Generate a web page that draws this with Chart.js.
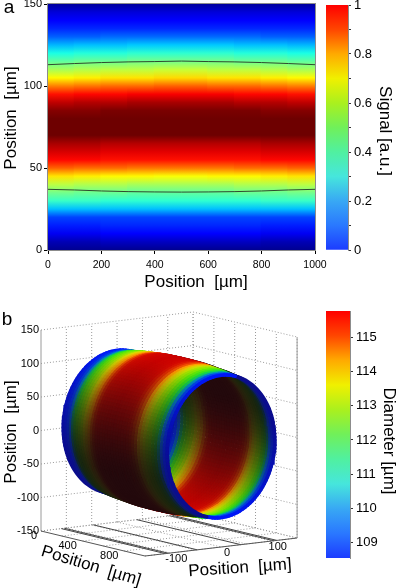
<!DOCTYPE html>
<html>
<head>
<meta charset="utf-8">
<script src="https://cdn.jsdelivr.net/npm/chart.js@4"></script>
<style>
body { margin: 0; background: #fff; }
canvas { position: absolute; }
</style>
</head>
<body>
<canvas id="mapa" width="345" height="300" style="left:0;top:0"></canvas>
<canvas id="barraSignal" width="80" height="300" style="left:320px;top:0"></canvas>
<canvas id="tubo" width="325" height="288" style="left:0;top:300px"></canvas>
<canvas id="barraDiam" width="80" height="288" style="left:320px;top:300px"></canvas>
<script>
// panel a: signal read at each position, one list per column, top row first
posY = [150,145,140,135,130,125,120,115,110,105,100,95,90,85,80,75,70,65,60,55,50,45,40,35,30,25,20,15,10,5,0];
col50 =  [.03,.08,.11,.15,.21,.30,.40,.47,.54,.63,.75,.86,.93,.98,1,1,1,.95,.91,.87,.78,.65,.56,.49,.43,.31,.18,.14,.10,.05,.02];
col150 = [.03,.08,.11,.15,.21,.31,.41,.48,.55,.64,.76,.87,.94,.98,1,1,1,.95,.91,.87,.77,.64,.55,.48,.43,.31,.18,.14,.10,.05,.02];
col250 = [.03,.08,.11,.15,.22,.31,.41,.48,.56,.65,.77,.87,.94,.99,1,1,1,.94,.90,.86,.77,.63,.55,.48,.42,.31,.18,.15,.11,.06,.02];
col350 = [.03,.08,.11,.15,.22,.32,.42,.49,.56,.65,.77,.88,.95,.99,1,1,1,.94,.90,.86,.76,.63,.54,.47,.42,.31,.18,.15,.11,.06,.02];
col450 = [.03,.08,.11,.15,.22,.32,.42,.49,.57,.66,.78,.88,.95,.99,1,1,1,.94,.90,.86,.76,.62,.54,.47,.42,.31,.18,.15,.11,.06,.02];
columnas = [col50,col150,col250,col350,col450,col450,col350,col250,col150,col50];
posColumnas = [50,150,250,350,450,550,650,750,850,950];
ticksMapaX = [0,200,400,600,800,1000];
ticksMapaY = [0,50,100,150];
contornoX = [0,100,200,300,400,500,600,700,800,900,1000];
contornoArriba = [113,113.7,114.3,114.7,114.9,115.2,114.9,114.7,114.3,113.7,113];
contornoAbajo = [37,36.6,36,35.6,35.4,35.3,35.4,35.6,36,36.6,37];

// colorbars
ticksSignal = [0,.1,.2,.3,.4,.5,.6,.7,.8,.9,1];
coloresSignal = ['#1c3cff','#2a78ff','#38a8f4','#46e6dc','#50f0a0','#70f05a','#aaf01e','#f0f000','#ffaa00','#ff4600','#ff0000'];
ticksDiam = [109,110,111,112,113,114,115];
coloresDiam = ['#1c3cff','#2a78ff','#38a8f4','#46e6dc','#50f0a0','#70f05a','#aaf01e','#f0f000','#ffaa00','#ff4600','#ff0000'];

// panel b: diameter along the tube
posTubo = [0,25,50,75,100,125,150,175,200,225,250,275,300,325,350,375,400,425,450,475,500,525,550,575,600,625,650,675,700,725,750,775,800,825,850,875,900,925,950,975,1000];
diametro = [108.7,108.8,109,109.5,110.3,111,111.6,112,112.4,112.9,113.3,113.7,114.2,114.7,115,115.2,115.3,115.4,115.5,115.5,115.6,115.6,115.5,115.5,115.4,115.3,115.1,114.9,114.6,114.2,113.6,113.1,112.7,112.3,112,111.5,110.9,110.2,109.5,109,108.7];
lineasPiso = [-110,-104,-47,39,104,110];
ticksZ = [-150,-100,-50,0,50,100,150];
coloresTubo = [[0,0,255],[0,120,225],[10,205,100],[50,230,30],[90,235,10],[150,235,0],[220,220,0],[255,160,0],[240,70,0],[215,10,0],[200,0,0]];

fuente = '"Liberation Sans", Arial, sans-serif';

function jet(v){
    stops = [[0,0,0,120],[.11,0,0,255],[.375,0,255,255],[.625,255,255,0],[.875,255,0,0],[1,110,0,0]];
    for (i = 1; i < stops.length; i++) {
        if(v <= stops[i][0]){
            a = stops[i-1]; b = stops[i];
            t = (v - a[0]) / (b[0] - a[0]);
            return 'rgb(' + (a[1]+t*(b[1]-a[1])) + ',' + (a[2]+t*(b[2]-a[2])) + ',' + (a[3]+t*(b[3]-a[3])) + ')';
        }
    }
    return 'rgb(110,0,0)';
}

function texto(ctx, str, x, y, rot, size){
    ctx.save();
    ctx.translate(x, y);
    ctx.rotate(rot * Math.PI / 180);
    ctx.font = size + 'px ' + fuente;
    ctx.fillStyle = '#000';
    ctx.textAlign = 'center';
    ctx.textBaseline = 'middle';
    ctx.fillText(str, 0, 0);
    ctx.restore();
}

function gradienteColumna(c, valores){
    area = c.chart.chartArea;
    if(!area){ return '#000'; }
    esc = c.chart.scales.y;
    g = c.chart.ctx.createLinearGradient(0, esc.getPixelForValue(150), 0, esc.getPixelForValue(0));
    for (k = 0; k < posY.length; k++) {
        g.addColorStop(1 - posY[k] / 150, jet(valores[k]));
    }
    return g;
}

new Chart(document.getElementById('mapa'), {
    type: 'bar',
    data: {
        datasets: [
            {type:'line', data: contornoX.map((x,i) => ({x:x,y:contornoArriba[i]})), borderColor:'#2f4a2f', borderWidth:1, pointRadius:0},
            {type:'line', data: contornoX.map((x,i) => ({x:x,y:contornoAbajo[i]})), borderColor:'#2f4a2f', borderWidth:1, pointRadius:0},
            {data: posColumnas.map(x => ({x:x,y:150})), barPercentage:1, categoryPercentage:1, inflateAmount:1,
             backgroundColor: c => gradienteColumna(c, columnas[c.dataIndex] || col50)}
        ]
    },
    options: {
        responsive: false,
        animation: false,
        layout: {padding:{top:4,right:30}},
        plugins: {legend:{display:false}, tooltip:{enabled:false}},
        scales: {
            x: {type:'linear', offset:false, min:0, max:1000,
                afterBuildTicks: s => { s.ticks = ticksMapaX.map(v => ({value:v})); },
                ticks:{maxRotation:0, autoSkip:false, color:'#000', font:{family:fuente,size:10.5}, padding:5, callback: v => String(v)},
                grid:{offset:false, drawOnChartArea:false, tickLength:4, color:'#000'}, border:{color:'#8c8c8c'},
                afterFit: s => { s.height = 50; s.paddingLeft = 0; s.paddingRight = 0; }},
            y: {min:0, max:150,
                afterBuildTicks: s => { s.ticks = ticksMapaY.map(v => ({value:v})); },
                ticks:{autoSkip:false, color:'#000', font:{family:fuente,size:11}, padding:2},
                grid:{drawOnChartArea:false, tickLength:4, color:'#000'}, border:{color:'#8c8c8c'},
                afterFit: s => { s.width = 48; s.paddingTop = 0; s.paddingBottom = 0; }}
        }
    },
    plugins: [{
        id:'marcoMapa',
        afterDraw(chart){
            ctx = chart.ctx; a = chart.chartArea;
            ctx.strokeStyle = '#8c8c8c';
            ctx.lineWidth = 1;
            ctx.strokeRect(a.left - .5, a.top - .5, a.right - a.left + 1, a.bottom - a.top + 1);
            texto(ctx, 'a', 9, 8, 0, 19);
            texto(ctx, 'Position  [µm]', 196, 282, 0, 17);
            texto(ctx, 'Position  [µm]', 11, 118, -90, 17);
        }
    }]
});

function barraColor(id, lista, minV, maxV, ticksV, top, bottom, ancho, titulo, tx, ty){
    new Chart(document.getElementById(id), {
        type: 'bar',
        data: {
            labels: [''],
            datasets: [{
                data: [[minV,maxV]], barPercentage:1, categoryPercentage:1,
                backgroundColor: c => {
                    a = c.chart.chartArea;
                    if(!a){ return '#000'; }
                    g = c.chart.ctx.createLinearGradient(0, a.bottom, 0, a.top);
                    lista.forEach((col,i) => g.addColorStop(i / (lista.length - 1), col));
                    return g;
                }
            }]
        },
        options: {
            responsive: false,
            animation: false,
            layout: {padding:{top:top,bottom:bottom,left:6}},
            plugins: {legend:{display:false}, tooltip:{enabled:false}},
            scales: {
                x: {display:false},
                y: {position:'right', min:minV, max:maxV,
                    afterBuildTicks: s => { s.ticks = ticksV.map(v => ({value:v})); },
                    ticks:{color:'#000', font:{family:fuente,size:13}, padding:3, autoSkip:false,
                        callback: function(v){
                            if(id == 'barraSignal'){
                                t10 = Math.round(v * 10);
                                return t10 % 2 ? '' : String(t10 / 10);
                            }
                            return String(v);
                        }},
                    grid:{drawOnChartArea:false, tickLength:3, color:'#333'}, border:{color:'#8c8c8c'},
                    afterFit: s => { s.width = ancho; s.paddingTop = 0; s.paddingBottom = 0; }}
            }
        },
        plugins: [{
            id:'tituloBarra',
            afterDraw(chart){ texto(chart.ctx, titulo, tx, ty, 90, 17); }
        }]
    });
}

barraColor('barraSignal', coloresSignal, 0, 1, ticksSignal, 5, 50, 52, 'Signal [a.u.]', 65, 131);
barraColor('barraDiam', coloresDiam, 108.56, 115.76, ticksDiam, 11, 30, 50, 'Diameter [µm]', 69, 141);

// oblique view of the box, chart units are the canvas pixels
function proyectar(X, Y, Z){
    return {
        x: 41 + .104 * X + .507 * (Y + 150),
        y: 231 + .025 * X - .06 * (Y + 150) - .67 * (Z + 150)
    };
}

function colorTubo(d){
    f = (d - 108.56) / (115.76 - 108.56) * (coloresTubo.length - 1);
    n = Math.min(Math.floor(f), coloresTubo.length - 2);
    t = f - n;
    return coloresTubo[n].map((c,i) => c + t * (coloresTubo[n+1][i] - c));
}

function luz(nz){
    return .12 + .88 * Math.pow(Math.max(0, (nz + .5) / 1.5), 1.9);
}

capas = [];

function linea(p1, p2, color, ancho, punteada){
    capas.push({
        data: [p1, p2], showLine:true, pointRadius:0, borderColor:color, borderWidth:ancho,
        borderDash: punteada ? [1,2] : []
    });
}

function anillo(d, X, desde, hasta, signo){
    const tonos = [];
    const pts = [];
    const base = colorTubo(d);
    // half the stroke width comes off the radius, so the edge lands on the diameter
    const radio = d - 2.5;
    for (let j = 0; j <= 60; j++) {
        const ang = (desde + (hasta - desde) * j / 60) * Math.PI / 180;
        pts.push(proyectar(X, radio * Math.cos(ang), radio * Math.sin(ang)));
        const s = luz(signo * Math.sin(ang));
        // blue keeps more of its strength in the shade
        const sb = .45 + .55 * s;
        tonos.push('rgb(' + Math.round(base[0]*s + 12*(1-s)) + ',' + Math.round(base[1]*s + 10*(1-s)) + ',' + Math.round(base[2]*sb + 14*(1-s)) + ')');
    }
    capas.push({
        data: pts, showLine:true, pointRadius:0, borderWidth:3.5, borderCapStyle:'round', borderColor:tonos[0],
        segment: {borderColor: c => tonos[c.p0DataIndex]}
    });
}

gris = '#9a9a9a';
// walls and floor of the box
ticksZ.forEach(z => {
    linea(proyectar(0,-150,z), proyectar(0,150,z), gris, 1, true);
    linea(proyectar(0,150,z), proyectar(1000,150,z), gris, 1, true);
});
[-100,-50,0,50,100,150].forEach(y => {
    linea(proyectar(0,y,-150), proyectar(0,y,150), gris, 1, true);
    linea(proyectar(0,y,-150), proyectar(1000,y,-150), gris, 1, true);
});
[0,200,400,600,800,1000].forEach(x => {
    linea(proyectar(x,150,-150), proyectar(x,150,150), gris, 1, true);
    linea(proyectar(x,-150,-150), proyectar(x,150,-150), gris, 1, true);
});
linea(proyectar(0,-150,-150), proyectar(0,-150,150), gris, 1, false);
linea(proyectar(1000,150,-150), proyectar(1000,150,150), gris, 1, false);
lineasPiso.forEach(y => {
    linea(proyectar(0,y,-150), proyectar(1000,y,-150), '#444', 1, false);
});
linea(proyectar(0,-150,-150), proyectar(1000,-150,-150), '#555', 1, false);
linea(proyectar(1000,-150,-150), proyectar(1000,150,-150), '#555', 1, false);

// inside of the tube first, then the outside over it
for (m = 0; m < posTubo.length; m++) {
    anillo(diametro[m], posTubo[m], -105.4, 74.6, -1);
}
for (m = 0; m < posTubo.length; m++) {
    anillo(diametro[m], posTubo[m], 74.6, 254.6, 1);
}

new Chart(document.getElementById('tubo'), {
    type: 'scatter',
    data: {datasets: capas.slice().reverse()},
    options: {
        responsive: false,
        animation: false,
        parsing: false,
        normalized: true,
        layout: {padding:0},
        plugins: {legend:{display:false}, tooltip:{enabled:false}},
        scales: {
            x: {display:false, min:0, max:325},
            y: {display:false, min:0, max:288, reverse:true}
        }
    },
    plugins: [{
        id:'textosTubo',
        afterDraw(chart){
            ctx = chart.ctx;
            texto(ctx, 'b', 7, 20, 0, 19);
            ticksZ.forEach(z => {
                p = proyectar(0,-150,z);
                ctx.save();
                ctx.font = '11px ' + fuente;
                ctx.textAlign = 'right';
                ctx.textBaseline = 'middle';
                ctx.fillStyle = '#000';
                ctx.fillText(String(z), p.x - 2, p.y);
                ctx.restore();
            });
            texto(ctx, '0', 34, 236, 0, 11);
            [400,800].forEach(x => {
                p = proyectar(x,-150,-150);
                texto(ctx, String(x), p.x - 15, p.y + 5, 0, 11);
            });
            [-100,0,100].forEach(y => {
                p = proyectar(1000,y,-150);
                texto(ctx, String(y), p.x + 6, p.y + 6, 0, 11);
            });
            texto(ctx, 'Position  [µm]', 91, 266, 17, 17);
            texto(ctx, 'Position  [µm]', 240, 268, -4, 17);
            texto(ctx, 'Position  [µm]', 11, 132, -90, 17);
        }
    }]
});
</script>
</body>
</html>
